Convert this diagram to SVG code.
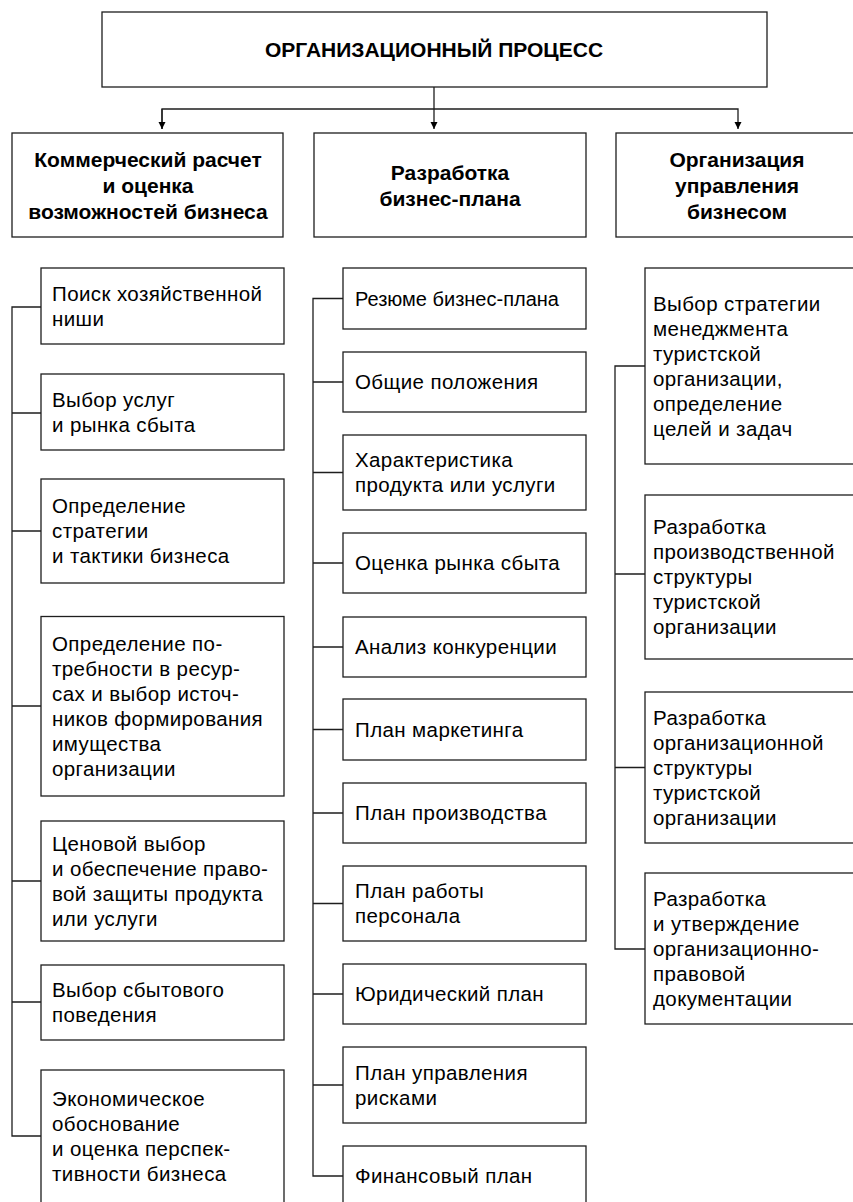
<svg xmlns="http://www.w3.org/2000/svg" width="853" height="1202" viewBox="0 0 853 1202">
<style>
.box{fill:#fff;stroke:#1e1e1e;stroke-width:1.3}
.ln{fill:none;stroke:#1e1e1e;stroke-width:1.3}
.t{font-family:"Liberation Sans",Arial,sans-serif;font-size:20.5px;letter-spacing:0.4px;fill:#000}
.h{font-family:"Liberation Sans",Arial,sans-serif;font-size:21px;font-weight:bold;fill:#000;text-anchor:middle}
</style>
<defs>
<marker id="arr" viewBox="0 0 10 10" refX="10" refY="5" markerWidth="7" markerHeight="12" markerUnits="userSpaceOnUse" orient="auto">
<path d="M0,0 L10,5 L0,10 Z" fill="#000"/>
</marker>
</defs>
<rect width="853" height="1202" fill="#fff"/>
<g id="connectors">
<line class="ln" x1="434" y1="87" x2="434" y2="129" marker-end="url(#arr)"/>
<polyline class="ln" points="162,129 162,109 738,109 738,129" marker-end="url(#arr)"/>
<line class="ln" x1="162" y1="109" x2="162" y2="129" marker-end="url(#arr)"/>
<path class="ln" d="M41,307 H12 V1136 H41 M12,413 H41 M12,531 H41 M12,706 H41 M12,881 H41 M12,1002 H41"/>
<path class="ln" d="M343,298.5 H313 V1176 H343 M313,382 H343 M313,472.5 H343 M313,563 H343 M313,647 H343 M313,729.5 H343 M313,813 H343 M313,903.5 H343 M313,994 H343 M313,1085 H343"/>
<path class="ln" d="M645,366 H615 V949 H645 M615,574 H645 M615,767.5 H645"/>
</g>
<g id="root"><rect class="box" x="102" y="12" width="665" height="75"/><text class="h" x="434" y="56.5">ОРГАНИЗАЦИОННЫЙ ПРОЦЕСС</text></g>
<g id="col1"><rect class="box" x="12" y="133" width="271" height="104"/><text class="h"><tspan x="148" y="166.5">Коммерческий расчет</tspan><tspan x="148" y="192.5">и оценка</tspan><tspan x="148" y="218.5">возможностей бизнеса</tspan></text></g>
<g id="col2"><rect class="box" x="314" y="133" width="272" height="104"/><text class="h"><tspan x="450" y="179.5">Разработка</tspan><tspan x="450" y="205.5">бизнес-плана</tspan></text></g>
<g id="col3"><rect class="box" x="616" y="133" width="250" height="104"/><text class="h"><tspan x="737" y="166.5">Организация</tspan><tspan x="737" y="192.5">управления</tspan><tspan x="737" y="218.5">бизнесом</tspan></text></g>

<g id="l1"><rect class="box" x="41" y="268" width="243" height="76"/><text class="t"><tspan x="52" y="300.5">Поиск хозяйственной</tspan><tspan x="52" y="325.5">ниши</tspan></text></g>
<g id="l2"><rect class="box" x="41" y="374" width="243" height="76"/><text class="t"><tspan x="52" y="406.5">Выбор услуг</tspan><tspan x="52" y="431.5">и рынка сбыта</tspan></text></g>
<g id="l3"><rect class="box" x="41" y="479" width="243" height="104"/><text class="t"><tspan x="52" y="513">Определение</tspan><tspan x="52" y="538">стратегии</tspan><tspan x="52" y="563">и тактики бизнеса</tspan></text></g>
<g id="l4"><rect class="box" x="41" y="616.5" width="243" height="179.5"/><text class="t"><tspan x="52" y="650.5">Определение по-</tspan><tspan x="52" y="675.5">требности в ресур-</tspan><tspan x="52" y="700.5">сах и выбор источ-</tspan><tspan x="52" y="725.5">ников формирования</tspan><tspan x="52" y="750.5">имущества</tspan><tspan x="52" y="775.5">организации</tspan></text></g>
<g id="l5"><rect class="box" x="41" y="821" width="243" height="120"/><text class="t"><tspan x="52" y="850.5">Ценовой выбор</tspan><tspan x="52" y="875.5">и обеспечение право-</tspan><tspan x="52" y="900.5">вой защиты продукта</tspan><tspan x="52" y="925.5">или услуги</tspan></text></g>
<g id="l6"><rect class="box" x="41" y="965" width="243" height="75"/><text class="t"><tspan x="52" y="997">Выбор сбытового</tspan><tspan x="52" y="1022">поведения</tspan></text></g>
<g id="l7"><rect class="box" x="41" y="1070" width="243" height="150"/><text class="t"><tspan x="52" y="1106">Экономическое</tspan><tspan x="52" y="1131">обоснование</tspan><tspan x="52" y="1156">и оценка перспек-</tspan><tspan x="52" y="1181">тивности бизнеса</tspan></text></g>

<g id="m1"><rect class="box" x="343" y="268" width="243" height="61"/><text class="t" x="355" y="305.5" style="font-size:20px;letter-spacing:0">Резюме бизнес-плана</text></g>
<g id="m2"><rect class="box" x="343" y="352" width="243" height="60"/><text class="t" x="355" y="389">Общие положения</text></g>
<g id="m3"><rect class="box" x="343" y="435" width="243" height="75"/><text class="t"><tspan x="355" y="467">Характеристика</tspan><tspan x="355" y="492">продукта или услуги</tspan></text></g>
<g id="m4"><rect class="box" x="343" y="533" width="243" height="60"/><text class="t" x="355" y="570">Оценка рынка сбыта</text></g>
<g id="m5"><rect class="box" x="343" y="617" width="243" height="60"/><text class="t" x="355" y="654">Анализ конкуренции</text></g>
<g id="m6"><rect class="box" x="343" y="699" width="243" height="61"/><text class="t" x="355" y="736.5">План маркетинга</text></g>
<g id="m7"><rect class="box" x="343" y="783" width="243" height="60"/><text class="t" x="355" y="820">План производства</text></g>
<g id="m8"><rect class="box" x="343" y="866" width="243" height="75"/><text class="t"><tspan x="355" y="898">План работы</tspan><tspan x="355" y="923">персонала</tspan></text></g>
<g id="m9"><rect class="box" x="343" y="964" width="243" height="60"/><text class="t" x="355" y="1001">Юридический план</text></g>
<g id="m10"><rect class="box" x="343" y="1047" width="243" height="76"/><text class="t"><tspan x="355" y="1079.5">План управления</tspan><tspan x="355" y="1104.5">рисками</tspan></text></g>
<g id="m11"><rect class="box" x="343" y="1146" width="243" height="80"/><text class="t" x="355" y="1183">Финансовый план</text></g>

<g id="r1"><rect class="box" x="645" y="268" width="220" height="196"/><text class="t"><tspan x="653" y="310.5">Выбор стратегии</tspan><tspan x="653" y="335.5">менеджмента</tspan><tspan x="653" y="360.5">туристской</tspan><tspan x="653" y="385.5">организации,</tspan><tspan x="653" y="410.5">определение</tspan><tspan x="653" y="435.5">целей и задач</tspan></text></g>
<g id="r2"><rect class="box" x="645" y="495" width="220" height="164"/><text class="t"><tspan x="653" y="534">Разработка</tspan><tspan x="653" y="559">производственной</tspan><tspan x="653" y="584">структуры</tspan><tspan x="653" y="609">туристской</tspan><tspan x="653" y="634">организации</tspan></text></g>
<g id="r3"><rect class="box" x="645" y="692" width="220" height="151"/><text class="t"><tspan x="653" y="724.5">Разработка</tspan><tspan x="653" y="749.5">организационной</tspan><tspan x="653" y="774.5">структуры</tspan><tspan x="653" y="799.5">туристской</tspan><tspan x="653" y="824.5">организации</tspan></text></g>
<g id="r4"><rect class="box" x="645" y="873" width="220" height="151"/><text class="t"><tspan x="653" y="905.5">Разработка</tspan><tspan x="653" y="930.5">и утверждение</tspan><tspan x="653" y="955.5">организационно-</tspan><tspan x="653" y="980.5">правовой</tspan><tspan x="653" y="1005.5">документации</tspan></text></g>
</svg>
